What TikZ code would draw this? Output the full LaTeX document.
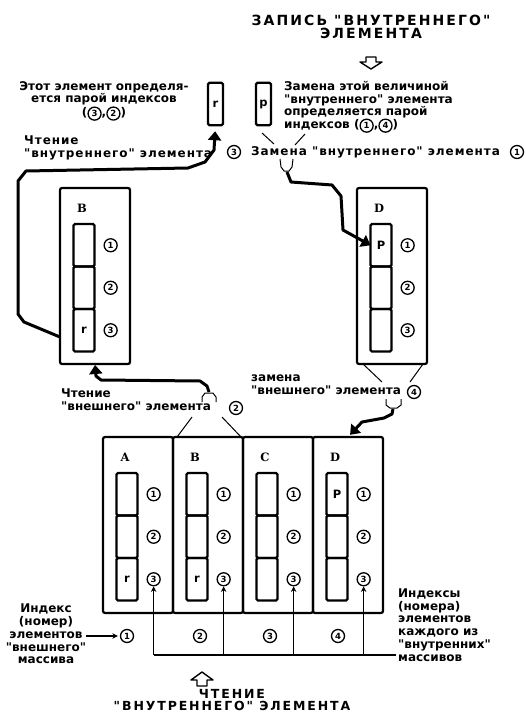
\documentclass[tikz,border=0pt]{standalone}
\usepackage{fontspec}
\setmainfont{DejaVu Sans}
\newfontfamily\bodyfont{DejaVu Sans}
\newfontfamily\widefont[LetterSpace=8]{DejaVu Sans}
\newfontfamily\capsfont[LetterSpace=15]{DejaVu Sans}
\newfontfamily\lblfont{DejaVu Serif}
\usetikzlibrary{calc,arrows.meta,positioning}
\tikzset{
  txt/.style={font=\bodyfont\fontsize{12}{12.8}\selectfont\bfseries,inner sep=0pt},
  wtxt/.style={font=\widefont\fontsize{12}{12.8}\selectfont\bfseries,inner sep=0pt},
  ttl/.style={font=\capsfont\fontsize{14}{13}\selectfont\bfseries,align=center,inner sep=0pt},
  arrbox/.style={draw,line width=2.2pt,rounded corners=2pt,anchor=north west,minimum width=70pt,minimum height=176pt,inner sep=0pt,outer sep=0pt},
  cell/.style={draw,line width=2.2pt,rounded corners=1.5pt,minimum width=21pt,minimum height=42.5pt,inner sep=0pt,outer sep=0pt,font=\bodyfont\fontsize{11.5}{11.5}\selectfont\bfseries},
  num/.style={circle,draw,line width=1.3pt,minimum size=13pt,inner sep=0pt,font=\bodyfont\fontsize{8.5}{8.5}\selectfont\bfseries},
  arrlab/.style={font=\lblfont\fontsize{11.5}{11.5}\selectfont\bfseries},
  fat/.style={line width=3pt,line join=round,-{Triangle[length=9pt,width=13pt]}},
  fun/.style={line width=1pt},
  ix/.style={line width=1.4pt,-{Stealth[length=5.5pt,width=5.5pt]}},
  hol/.style={line width=1.4pt,line join=round}
}
\newcommand{\cn}[1]{\tikz[baseline=(c.base)]\node[num](c){#1};}
\newcommand{\arrblock}[6]{%
  \node[arrbox] (#1) at (#2,#3) {};
  \node[arrlab] (#1-l) at ($(#1.north west)+(22,20)$) {#4};
  \node[cell,below right=36pt and 13.5pt of #1.north west] (#1-1) {#5};
  \node[cell,below=0pt of #1-1] (#1-2) {};
  \node[cell,below=0pt of #1-2] (#1-3) {#6};
  \node[num,right=9pt of #1-1] (#1-n1) {1};
  \node[num,right=9pt of #1-2] (#1-n2) {2};
  \node[num,right=9pt of #1-3] (#1-n3) {3};
}
\begin{document}
\begin{tikzpicture}[x=1pt,y=-1pt]
\useasboundingbox (0,0) rectangle (526,725);
% write title
\node[ttl] (wrtitle) at (371,27) {ЗАПИСЬ "ВНУТРЕННЕГО"\\ЭЛЕМЕНТА};
\draw[hol] (366,57) -- (376,57) -- (376,62) -- (382,62) -- (371,69) -- (360,62) -- (366,62) -- cycle;
% single elements
\node[cell,minimum width=15pt] (rbox) at (215.5,104) {r};
\node[cell,minimum width=15pt] (pbox) at (263.5,104) {p};
\node[txt,align=center] (noteL) at (104,101) {Этот элемент определя-\\ется парой индексов\\(\cn{3},\cn{2})};
\node[txt,align=left,anchor=west] (noteR) at (284,107) {Замена этой величиной\\"внутреннего" элемента\\определяется парой\\индексов (\cn{1},\cn{4})};
% inner element labels
\node[wtxt,align=left,anchor=west] (rdin) at (24,148) {Чтение\\"внутреннего" элемента};
\node[num] (rdin-n) at (234,152) {3};
\node[wtxt,anchor=west] (wrin) at (251,152) {Замена "внутреннего" элемента};
\node[num] (wrin-n) at (517,152) {1};
\draw[fun] (262,133) -- (274,144);
\draw[fun] (305,134) -- (295,145);
\draw[fun] (280,159) -- (281,167) -- (284,171) -- (289,171) -- (292,167) -- (293,159);
% middle arrays
\arrblock{mB}{60}{188}{B}{}{r}
\arrblock{mD}{357}{188}{D}{P}{}
% outer element labels
\node[txt,align=left,anchor=west] (rdout) at (61,400) {Чтение\\"внешнего" элемента};
\node[num] (rdout-n) at (236,408) {2};
\draw[fun] (202,402) -- (202,397) -- (205,393) -- (213,393) -- (216,397) -- (216,402);
\node[txt,align=left,anchor=west] (wrout) at (251,385) {замена\\"внешнего" элемента};
\node[num] (wrout-n) at (414,392) {4};
\draw[fun] (386,399) -- (386,405) -- (390,408) -- (397,408) -- (401,405) -- (401,399);
% bottom arrays
\arrblock{bA}{103}{437}{A}{}{r}
\arrblock{bB}{173}{437}{B}{}{r}
\arrblock{bC}{243}{437}{C}{}{}
\arrblock{bD}{313}{437}{D}{P}{}
\draw[fun] ([xshift=4pt]bB.north west) -- (192,417);
\draw[fun] ([xshift=-2pt]bB.north east) -- (222,417);
\draw[fun] ([xshift=6pt]mD.south west) -- (382,382);
\draw[fun] ([xshift=-4pt]mD.south east) -- (410,382);
% fat arrows
\draw[fat,shorten >=6pt] ([yshift=27pt]mB.south west) -- (24,322) -- (18,314) -- (18,181) -- (26,171) -- (188,168) -- (205,162) -- (214,150) -- (rbox.south);
\draw[fat] (287,172) -- (291,182) -- (332,185) -- (341,196) -- (343,230) -- (mD-1.west);
\draw[fat,shorten >=1pt] (209,392) -- (207,386) -- (200,381) -- (101,380) -- (96,376) -- (mB.south);
\draw[fat,shorten >=3pt] (393,409) -- (392,414) -- (384,418) -- (362,422) -- (bD.north);
% index lines
\coordinate (idxend) at (396,655);
\foreach \n in {bA,bB,bC,bD}
  \draw[ix] (\n-n3 |- idxend) -- (\n-n3);
\draw[line width=1.4pt] (bA-n3 |- idxend) -- (idxend);
\foreach \i/\x in {1/127,2/200,3/270,4/338}
  \node[num] (o\i) at (\x,636) {\i};
\node[txt,align=center] (inlab) at (46,634) {Индекс\\(номер)\\элементов\\"внешнего"\\массива};
\draw[ix,shorten >=2pt] (inlab.east |- o1) -- (o1);
\node[txt,align=left,anchor=west] (outlab) at (398,625) {Индексы\\(номера)\\элементов\\каждого из\\"внутренних"\\массивов};
% read title
\draw[hol] (197,686) -- (207,686) -- (207,680) -- (213,680) -- (202,672) -- (191,680) -- (197,680) -- cycle;
\node[ttl,font=\capsfont\fontsize{12.5}{12.5}\selectfont\bfseries] (rdtitle) at (232,700) {ЧТЕНИЕ\\"ВНУТРЕННЕГО" ЭЛЕМЕНТА};
\end{tikzpicture}
\end{document}
